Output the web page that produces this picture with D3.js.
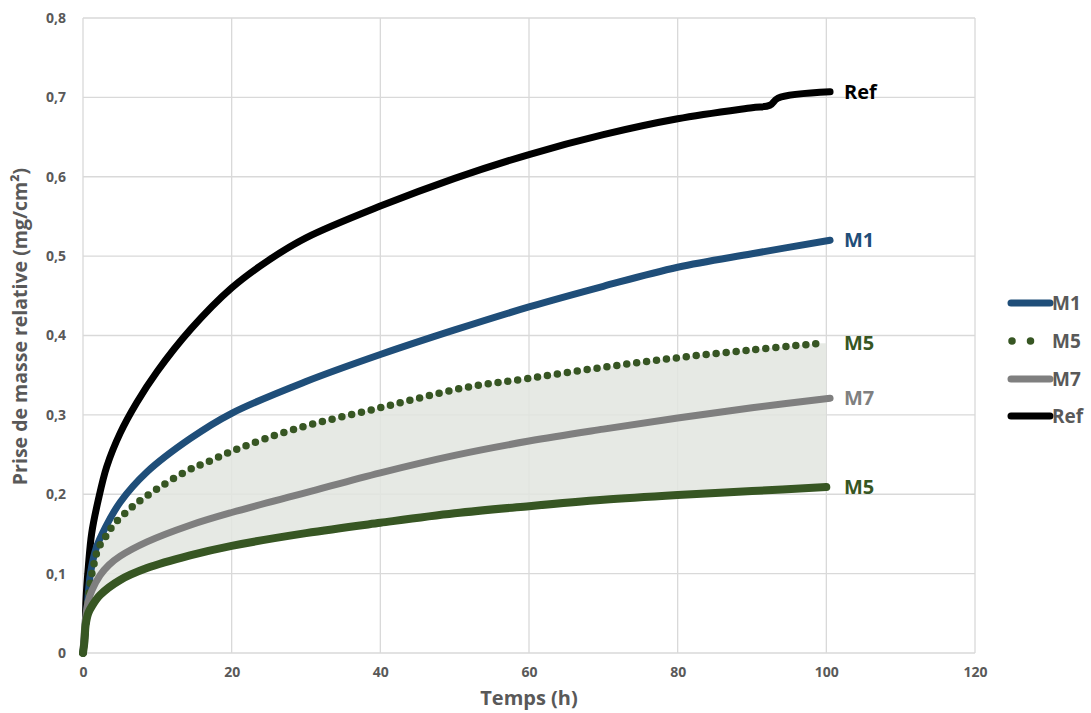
<!DOCTYPE html>
<html>
<head>
<meta charset="utf-8">
<script src="https://cdn.jsdelivr.net/npm/d3@7"></script>
<style>
  body { margin: 0; background: #fff; }
  svg { display: block; font-family: "Open Sans", Lato, sans-serif; }
</style>
</head>
<body>
<svg id="chart" width="1091" height="713"></svg>
<script>
// ---- data ----
const xTicks = [0, 20, 40, 60, 80, 100, 120];
const yTicks = [0, 0.1, 0.2, 0.3, 0.4, 0.5, 0.6, 0.7, 0.8];
const yTickLabels = ["0", "0,1", "0,2", "0,3", "0,4", "0,5", "0,6", "0,7", "0,8"];

const refTime = [0, 0.27, 0.4, 0.72, 1.17, 2.06, 3.2, 5, 7.2, 10, 14.5, 20, 25, 30, 40, 50, 60, 70, 80, 90, 92.4, 93.5, 100.5];
const refVal  = [0, 0.025, 0.067, 0.109, 0.151, 0.193, 0.235, 0.277, 0.315, 0.355, 0.408, 0.46, 0.495, 0.523, 0.563, 0.598, 0.628, 0.653, 0.673, 0.687, 0.690, 0.699, 0.707];

const m1Time = [0, 0.5, 1, 1.8, 3, 5, 8.6, 14.4, 20, 30, 40, 50, 60, 70, 80, 90, 100.5];
const m1Val  = [0, 0.05, 0.1, 0.133, 0.158, 0.19, 0.228, 0.27, 0.302, 0.342, 0.376, 0.407, 0.436, 0.462, 0.486, 0.503, 0.52];

const m5HighTime = [0, 0.5, 1, 1.5, 2.06, 3, 3.9, 6.1, 8.6, 13.9, 17.1, 20.5, 28.8, 40, 51.2, 60, 70, 80, 90, 99];
const m5HighVal  = [0, 0.05, 0.09, 0.113, 0.132, 0.146, 0.159, 0.18, 0.198, 0.229, 0.242, 0.256, 0.283, 0.309, 0.334, 0.346, 0.36, 0.372, 0.382, 0.39];

const m7Time = [0, 0.3, 0.7, 1.2, 2.3, 3.5, 5, 8.6, 14.4, 20, 30, 40, 50, 60, 70, 80, 90, 100.5];
const m7Val  = [0, 0.04, 0.065, 0.079, 0.098, 0.111, 0.122, 0.14, 0.161, 0.177, 0.202, 0.227, 0.249, 0.267, 0.282, 0.296, 0.309, 0.321];

const m5LowTime = [0, 0.2, 0.35, 0.7, 1.2, 2.3, 5, 8.6, 14.4, 20, 30, 40, 50, 60, 70, 80, 90, 100];
const m5LowVal  = [0, 0.015, 0.035, 0.05, 0.059, 0.073, 0.092, 0.107, 0.123, 0.135, 0.151, 0.164, 0.176, 0.185, 0.193, 0.199, 0.204, 0.209];

const legendNames = ["M1", "M5", "M7", "Ref"];

// ---- drawing ----
const svg = d3.select("#chart");
const x = d3.scaleLinear().domain([0, 120]).range([83, 975]);
const y = d3.scaleLinear().domain([0, 0.8]).range([653, 18]);

const C = { m1: "#1f4e79", m5: "#375623", m7: "#7f7f7f", ref: "#000000", text: "#595959", grid: "#d9d9d9" };
const FONT = "'Open Sans', Lato, sans-serif";

const zip = (t, v) => t.map((d, i) => [d, v[i]]);

// grid
svg.append("g").selectAll("line").data(yTicks).join("line")
  .attr("x1", x(0)).attr("x2", x(120))
  .attr("y1", d => y(d)).attr("y2", d => y(d))
  .attr("stroke", C.grid).attr("stroke-width", 1.3);
svg.append("g").selectAll("line").data(xTicks).join("line")
  .attr("x1", d => x(d)).attr("x2", d => x(d))
  .attr("y1", y(0)).attr("y2", y(0.8))
  .attr("stroke", C.grid).attr("stroke-width", 1.3);

// band between the two M5 curves
const curve = d3.curveCatmullRom.alpha(0.5);
const upper = zip(m5HighTime, m5HighVal).filter(d => d[0] >= 1);
upper.push([100, m5HighVal[m5HighVal.length - 1]]);
const lower = zip(m5LowTime, m5LowVal).filter(d => d[0] >= 1);
const bandPath = d3.line().x(d => x(d[0])).y(d => y(d[1])).curve(curve)(upper) +
  "L" + d3.line().x(d => x(d[0])).y(d => y(d[1])).curve(curve)(lower.slice().reverse()).slice(1) + "Z";
svg.append("path")
  .attr("d", bandPath)
  .attr("fill", "#e2e5df").attr("fill-opacity", 0.85);

const line = d3.line().x(d => x(d[0])).y(d => y(d[1])).curve(curve);

function drawLine(t, v, color, w, dash) {
  const p = svg.append("path").attr("d", line(zip(t, v)))
    .attr("fill", "none").attr("stroke", color).attr("stroke-width", w)
    .attr("stroke-linecap", "round").attr("stroke-linejoin", "round");
  if (dash) p.attr("stroke-dasharray", dash);
  return p;
}

drawLine(refTime, refVal, C.ref, 7);
drawLine(m1Time, m1Val, C.m1, 7);
drawLine(m5HighTime, m5HighVal, C.m5, 7.5, "0,10");
drawLine(m7Time, m7Val, C.m7, 7);
drawLine(m5LowTime, m5LowVal, C.m5, 8);

// axes tick labels
const yAxis = d3.axisLeft(y).tickValues(yTicks).tickSize(0).tickPadding(0)
  .tickFormat((d, i) => yTickLabels[i]);
const gy = svg.append("g").attr("transform", "translate(66,0)").call(yAxis);
gy.select(".domain").remove();
gy.selectAll("text").attr("font-size", 14).attr("font-weight", "bold")
  .attr("fill", C.text).attr("font-family", FONT);

const xAxis = d3.axisBottom(x).tickValues(xTicks).tickSize(0).tickPadding(0);
const gx = svg.append("g").attr("transform", "translate(0,667)").call(xAxis);
gx.select(".domain").remove();
gx.selectAll("text").attr("font-size", 14).attr("font-weight", "bold")
  .attr("fill", C.text).attr("font-family", FONT);

// axis titles
svg.append("text").attr("x", x(60)).attr("y", 705).attr("text-anchor", "middle")
  .attr("font-size", 20).attr("font-weight", "bold").attr("fill", C.text)
  .text("Temps (h)");
svg.append("text").attr("transform", "translate(27," + (y(0.4) - 9) + ") rotate(-90)")
  .attr("text-anchor", "middle")
  .attr("font-size", 19.5).attr("font-weight", "bold").attr("fill", C.text)
  .text("Prise de masse relative (mg/cm²)");

// end labels
const endLabels = [
  { name: "Ref", v: refVal[refVal.length - 1], c: C.ref },
  { name: "M1", v: m1Val[m1Val.length - 1], c: C.m1 },
  { name: "M5", v: m5HighVal[m5HighVal.length - 1], c: C.m5 },
  { name: "M7", v: m7Val[m7Val.length - 1], c: "#808080" },
  { name: "M5", v: m5LowVal[m5LowVal.length - 1], c: C.m5 }
];
svg.append("g").selectAll("text").data(endLabels).join("text")
  .attr("x", 844).attr("y", d => y(d.v) + 7)
  .attr("font-size", 20).attr("font-weight", "bold").attr("fill", d => d.c)
  .text(d => d.name);

// legend
const legColors = [C.m1, C.m5, C.m7, C.ref];
const legY = [303, 341, 379, 416];
const leg = svg.append("g");
legendNames.forEach((n, i) => {
  if (n === "M5") {
    leg.append("line").attr("x1", 1012).attr("x2", 1049).attr("y1", legY[i]).attr("y2", legY[i])
      .attr("stroke", legColors[i]).attr("stroke-width", 7.5)
      .attr("stroke-linecap", "round").attr("stroke-dasharray", "0,18.5");
  } else {
    leg.append("line").attr("x1", 1011).attr("x2", 1050).attr("y1", legY[i]).attr("y2", legY[i])
      .attr("stroke", legColors[i]).attr("stroke-width", 7).attr("stroke-linecap", "round");
  }
  leg.append("text").attr("x", 1052).attr("y", legY[i] + 7)
    .attr("font-size", 19).attr("font-weight", "bold").attr("fill", C.text).text(n);
});
</script>
</body>
</html>
